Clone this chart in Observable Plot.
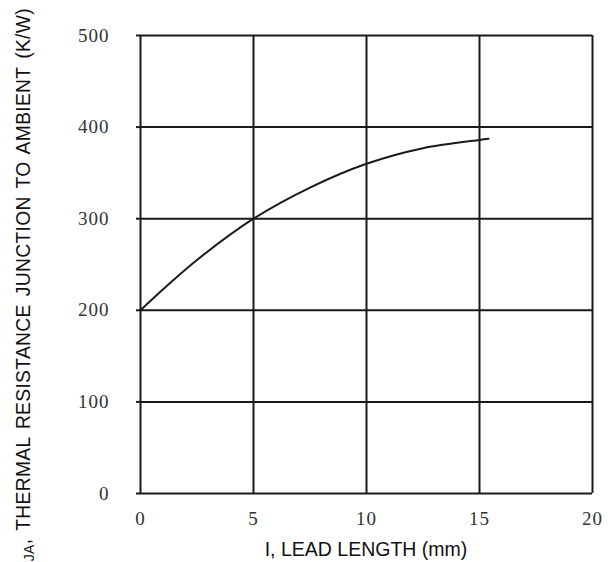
<!DOCTYPE html>
<html>
<head>
<meta charset="utf-8">
<script src="https://cdn.jsdelivr.net/npm/d3@7"></script>
<script src="https://cdn.jsdelivr.net/npm/@observablehq/plot@0.6"></script>
<style>
  html, body { margin: 0; padding: 0; background: #fff; }
</style>
</head>
<body>
<div id="chart"></div>
<script>
const xTicks = [0, 5, 10, 15, 20];
const yTicks = [0, 100, 200, 300, 400, 500];
const leadLength = [0, 1, 2.5, 5, 7.5, 10, 12.5, 15, 15.4];
const resistance = [200, 223, 255, 300, 334, 360, 377, 386, 387.2];
const xLabel = "I, LEAD LENGTH (mm)";
const yLabelMain = "R";
const yLabelSub = "θJA";
const yLabelRest = ", THERMAL RESISTANCE JUNCTION TO AMBIENT (K/W)";

const data = leadLength.map((x, i) => ({x, y: resistance[i]}));
const serif = "'Liberation Serif', 'DejaVu Serif', 'Times New Roman', serif";
const sans = "'Liberation Sans', Arial, sans-serif";

const chart = Plot.plot({
  width: 610,
  height: 562,
  marginLeft: 140,
  marginRight: 18,
  marginTop: 35,
  marginBottom: 69,
  style: {background: "white"},
  x: {domain: [0, 20]},
  y: {domain: [0, 500]},
  marks: [
    Plot.ruleX(xTicks, {stroke: "#1a1a1a", strokeWidth: 2}),
    Plot.ruleY(yTicks, {stroke: "#1a1a1a", strokeWidth: 2}),
    Plot.axisY(yTicks, {tickSize: 4, tickPadding: 27, fontSize: 19, fill: "#333", stroke: "#1a1a1a", strokeWidth: 2, label: null}),
    Plot.axisX(xTicks, {tickSize: 0, tickPadding: 18, fontSize: 19, fill: "#333", label: null}),
    Plot.line(data, {x: "x", y: "y", curve: "catmull-rom", stroke: "#1a1a1a", strokeWidth: 2})
  ]
});

const svg = d3.select(chart);
svg.selectAll("text").style("font-family", serif).style("letter-spacing", "1px");

svg.append("text")
  .attr("x", 366)
  .attr("y", 556)
  .attr("text-anchor", "middle")
  .style("font-family", sans)
  .attr("font-size", 19.5)
  .attr("fill", "#111")
  .text(xLabel);

const yl = svg.append("text")
  .attr("transform", "translate(30,8) rotate(-90)")
  .attr("text-anchor", "end")
  .style("font-family", sans)
  .attr("font-size", 19.3)
  .attr("letter-spacing", 0.3)
  .attr("word-spacing", 2.5)
  .attr("fill", "#111");
yl.append("tspan").text(yLabelMain);
yl.append("tspan").attr("font-size", 14).attr("dy", 4).text(yLabelSub);
yl.append("tspan").attr("dy", -4).text(yLabelRest);

document.getElementById("chart").appendChild(chart);
</script>
</body>
</html>
